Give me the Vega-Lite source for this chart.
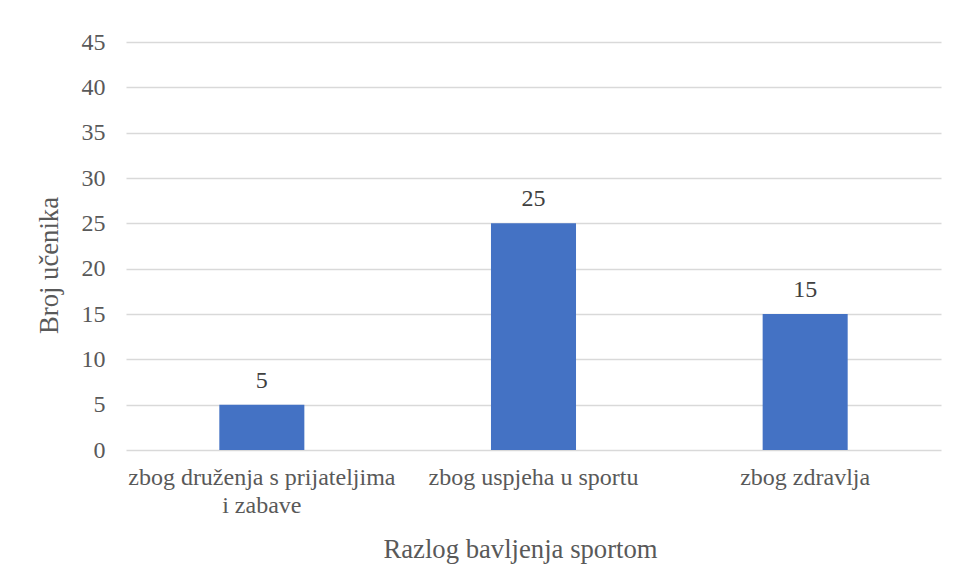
{
  "$schema": "https://vega.github.io/schema/vega-lite/v6.json",
  "width": 815,
  "height": 408,
  "autosize": "none",
  "padding": {"left": 126, "top": 42, "right": 16, "bottom": 131},
  "background": "white",
  "data": {"values": [
    {"razlog": "zbog druženja s prijateljima i zabave", "broj": 5},
    {"razlog": "zbog uspjeha u sportu", "broj": 25},
    {"razlog": "zbog zdravlja", "broj": 15}
  ]},
  "config": {
    "font": "Liberation Serif",
    "view": {"stroke": null},
    "axis": {"labelFont": "Liberation Serif", "titleFont": "Liberation Serif", "labelColor": "#595959", "titleColor": "#595959", "titleFontWeight": "normal"}
  },
  "layer": [
    {
      "mark": {"type": "bar", "color": "#4472C4"},
      "encoding": {
        "x": {"field": "razlog", "type": "nominal", "sort": null,
          "scale": {"paddingInner": 0.687, "paddingOuter": 0.3435},
          "axis": {"labelAngle": 0, "labelFontSize": 24, "labelLimit": 400, "ticks": false, "domain": false, "labelPadding": 15, "labelLineHeight": 28,
            "labelExpr": "datum.label == 'zbog druženja s prijateljima i zabave' ? ['zbog druženja s prijateljima', 'i zabave'] : datum.label",
            "title": "Razlog bavljenja sportom", "titleFontSize": 26.7, "titlePadding": 19, "titleX": 394}},
        "y": {"field": "broj", "type": "quantitative",
          "scale": {"domain": [0, 45]},
          "axis": {"values": [0,5,10,15,20,25,30,35,40,45], "labelFontSize": 24, "ticks": false, "domain": false, "labelPadding": 21,
            "gridColor": "#d9d9d9", "gridWidth": 1.3,
            "title": "Broj učenika", "titleFontSize": 26.7, "titlePadding": 18, "titleY": 223}}
      }
    },
    {
      "mark": {"type": "text", "baseline": "alphabetic", "dy": -17, "fontSize": 24, "color": "#404040", "font": "Liberation Serif"},
      "encoding": {
        "x": {"field": "razlog", "type": "nominal", "sort": null},
        "y": {"field": "broj", "type": "quantitative"},
        "text": {"field": "broj", "type": "quantitative"}
      }
    }
  ]
}
